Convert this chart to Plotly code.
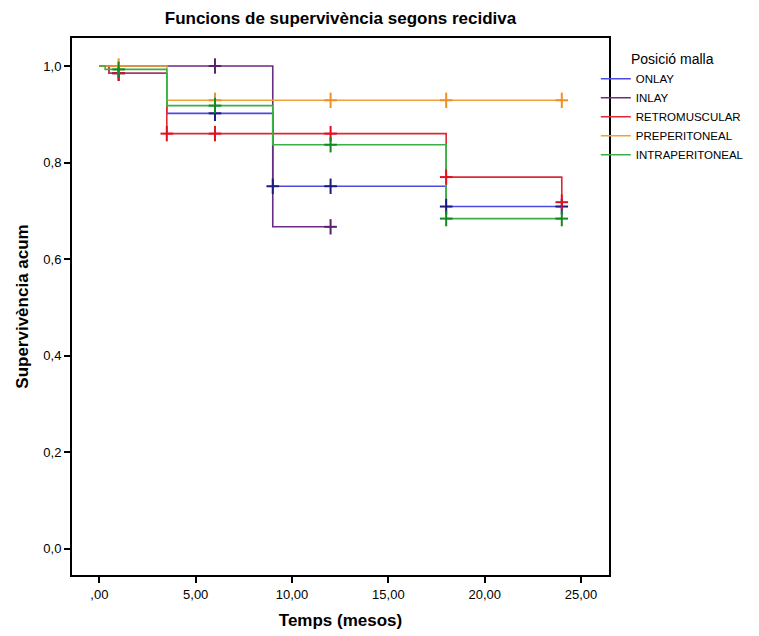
import plotly.graph_objects as go

series_names = ["ONLAY", "INLAY", "RETROMUSCULAR", "PREPERITONEAL", "INTRAPERITONEAL"]

onlay_t = [0, 0.5, 3.5, 9, 18, 24]
onlay_s = [1.0, 0.985, 0.902, 0.751, 0.709, 0.709]
onlay_c = [1, 6, 9, 12, 18, 24]

inlay_t = [0, 9, 12]
inlay_s = [1.0, 0.667, 0.667]
inlay_c = [6, 12]

retro_t = [0, 0.5, 3.5, 18, 24]
retro_s = [1.0, 0.985, 0.860, 0.770, 0.718]
retro_c = [1, 3.5, 6, 12, 18, 24]

prep_t = [0, 3.5, 24]
prep_s = [1.0, 0.929, 0.929]
prep_c = [1, 6, 12, 18, 24]

intra_t = [0, 0.3, 3.5, 9, 18, 24]
intra_s = [1.0, 0.993, 0.918, 0.837, 0.684, 0.684]
intra_c = [1, 6, 12, 18, 24]

x_ticks = [0, 5, 10, 15, 20, 25]
x_ticktext = [",00", "5,00", "10,00", "15,00", "20,00", "25,00"]
y_ticks = [0, 0.2, 0.4, 0.6, 0.8, 1.0]
y_ticktext = ["0,0", "0,2", "0,4", "0,6", "0,8", "1,0"]

line_colors = ["#4b4be0", "#6a2c80", "#dc2a34", "#f0a23a", "#3cb048"]
mark_colors = ["#1a1a80", "#5a2070", "#e01020", "#f09020", "#108a20"]

data = [
    (onlay_t, onlay_s, onlay_c),
    (inlay_t, inlay_s, inlay_c),
    (retro_t, retro_s, retro_c),
    (prep_t, prep_s, prep_c),
    (intra_t, intra_s, intra_c),
]


def surv_at(ts, ss, t):
    v = ss[0]
    for ti, si in zip(ts, ss):
        if ti <= t:
            v = si
    return v


fig = go.Figure()
for name, (ts, ss, cs), lc, mc in zip(series_names, data, line_colors, mark_colors):
    fig.add_trace(go.Scatter(
        x=ts, y=ss, mode="lines", line=dict(color=lc, width=1.6, shape="hv"),
        name=name, showlegend=True,
    ))
for name, (ts, ss, cs), lc, mc in zip(series_names, data, line_colors, mark_colors):
    fig.add_trace(go.Scatter(
        x=cs, y=[surv_at(ts, ss, c) for c in cs], mode="markers",
        marker=dict(symbol="line-ns-open", size=11, color=mc, line=dict(color=mc, width=2)),
        showlegend=False, name=name,
    ))
    fig.add_trace(go.Scatter(
        x=cs, y=[surv_at(ts, ss, c) for c in cs], mode="markers",
        marker=dict(symbol="line-ew-open", size=9, color=mc, line=dict(color=mc, width=2)),
        showlegend=False, name=name,
    ))

fig.update_layout(
    width=759, height=636,
    margin=dict(l=72, r=150, t=38, b=61, autoexpand=False),
    paper_bgcolor="white", plot_bgcolor="white",
    font=dict(family="Liberation Sans, Arial, sans-serif", color="black", size=13),
    title=dict(text="<b>Funcions de supervivència segons recidiva</b>", x=0.5, xref="paper",
               y=1 - 18 / 636, yanchor="middle", font=dict(size=17)),
    xaxis=dict(range=[-1.42, 26.45], tickvals=x_ticks, ticktext=x_ticktext,
               showgrid=False, zeroline=False, showline=True, mirror=True,
               linecolor="black", linewidth=2, ticks="outside", ticklen=6,
               tickwidth=2, tickcolor="black",
               title=dict(text="<b>Temps (mesos)</b>", font=dict(size=17), standoff=14)),
    yaxis=dict(range=[-0.054, 1.058], tickvals=y_ticks, ticktext=y_ticktext,
               showgrid=False, zeroline=False, showline=True, mirror=True,
               linecolor="black", linewidth=2, ticks="outside", ticklen=6,
               tickwidth=2, tickcolor="black",
               title=dict(text="<b>Supervivència acum</b>", font=dict(size=17), standoff=10)),
    legend=dict(xref="container", yref="container", x=0.785, xanchor="left",
                y=1 - 46 / 636, yanchor="top",
                title=dict(text="Posició malla", font=dict(size=14), side="top center"),
                font=dict(size=11.5), itemwidth=30, tracegroupgap=0,
                bgcolor="rgba(0,0,0,0)"),
)

fig.write_html("out.html")
